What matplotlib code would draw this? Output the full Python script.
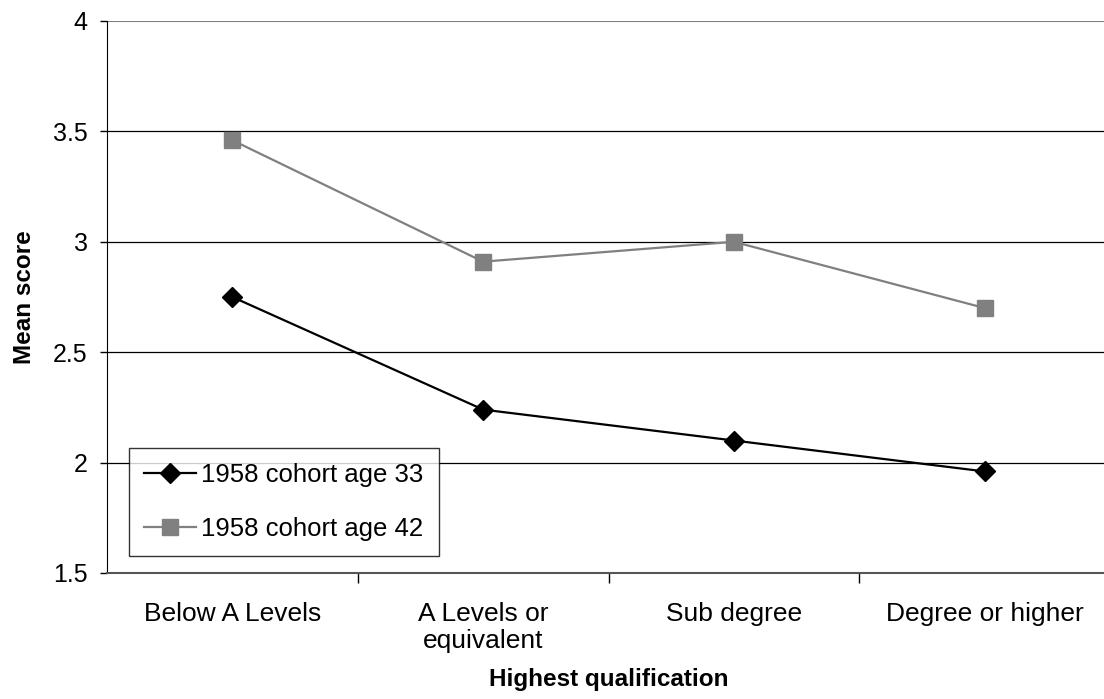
import matplotlib
matplotlib.use('Agg')
import matplotlib.pyplot as plt

categories = ['Below A Levels', 'A Levels or\nequivalent', 'Sub degree', 'Degree or higher']
age33 = [2.75, 2.24, 2.10, 1.96]
age42 = [3.46, 2.91, 3.00, 2.70]
yticks = [1.5, 2, 2.5, 3, 3.5, 4]
ytick_labels = ['1.5', '2', '2.5', '3', '3.5', '4']

plt.rcParams['font.family'] = ['Liberation Sans', 'DejaVu Sans']

fig = plt.figure(figsize=(11.04, 6.99), dpi=100)
ax = fig.add_axes([107 / 1104, 126 / 699, 1003 / 1104, 552 / 699])

x = list(range(len(categories)))
ax.plot(x, age33, color='black', lw=1.6, marker='D', markersize=10.5,
        label='1958 cohort age 33', zorder=3)
ax.plot(x, age42, color='#808080', lw=1.6, marker='s', markersize=11,
        label='1958 cohort age 42', zorder=3)

ax.set_xlim(-0.5, 3.5)
ax.set_ylim(1.5, 4)
ax.set_yticks(yticks)
ax.set_yticklabels(ytick_labels)
for y in yticks[1:-1]:
    ax.axhline(y, color='black', lw=0.9, zorder=1)
ax.axhline(4, color='#808080', lw=1.5, zorder=1)

ax.set_xticks(x)
ax.set_xticklabels(categories, linespacing=1.15)
ax.set_xticks([0.5, 1.5, 2.5], minor=True)
ax.tick_params(axis='x', which='major', length=0, pad=21, labelsize=19)
ax.tick_params(axis='x', which='minor', length=7, width=1, color='black')
ax.tick_params(axis='y', length=5, width=1, labelsize=18, pad=9)

ax.spines['right'].set_visible(False)
ax.spines['top'].set_visible(False)
ax.spines['left'].set_color('black')
ax.spines['bottom'].set_color('#555555')
ax.spines['bottom'].set_linewidth(1.5)

ax.set_ylabel('Mean score', fontsize=17.5, fontweight='bold', labelpad=12)
ax.set_xlabel('Highest qualification', fontsize=17.5, fontweight='bold', labelpad=11)

leg = ax.legend(loc='lower left', bbox_to_anchor=(22 / 1003, 17 / 552),
                fontsize=18.5, frameon=True, fancybox=False, borderpad=0.6,
                labelspacing=1.15, handlelength=2.0, handletextpad=0.2,
                borderaxespad=0)
leg.get_frame().set_edgecolor('black')
leg.get_frame().set_linewidth(1)

fig.savefig('out.png', dpi=100)
